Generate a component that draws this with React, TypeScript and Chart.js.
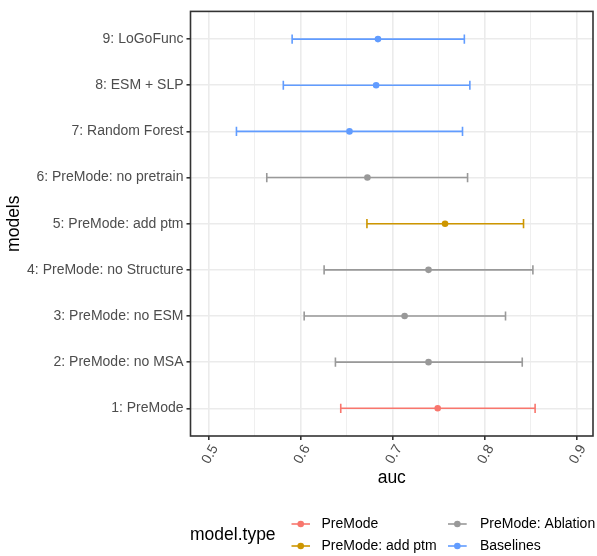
import React, { useEffect, useRef } from "react";
import { Chart, registerables } from "chart.js";

Chart.register(...registerables);

// ---- data ----
const models = [
  "1: PreMode",
  "2: PreMode: no MSA",
  "3: PreMode: no ESM",
  "4: PreMode: no Structure",
  "5: PreMode: add ptm",
  "6: PreMode: no pretrain",
  "7: Random Forest",
  "8: ESM + SLP",
  "9: LoGoFunc",
];
const modelTypeOf = [
  "PreMode",
  "PreMode: Ablation",
  "PreMode: Ablation",
  "PreMode: Ablation",
  "PreMode: add ptm",
  "PreMode: Ablation",
  "Baselines",
  "Baselines",
  "Baselines",
];
const aucMean = [0.749, 0.739, 0.713, 0.739, 0.757, 0.6725, 0.653, 0.682, 0.684];
const aucLower = [0.6435, 0.6377, 0.6037, 0.6254, 0.672, 0.563, 0.53, 0.581, 0.5906];
const aucUpper = [0.855, 0.841, 0.8228, 0.8526, 0.8424, 0.7815, 0.776, 0.784, 0.778];

const typeLevels = ["PreMode", "PreMode: add ptm", "PreMode: Ablation", "Baselines"];
const typeColors = ["#F8766D", "#CD9600", "#999999", "#619CFF"];

const xMajorTicks = [0.5, 0.6, 0.7, 0.8, 0.9];
const xMinorTicks = [0.55, 0.65, 0.75, 0.85];
const xLimits = [0.48, 0.918];

const FONT = "'Liberation Sans', Arial, Helvetica, sans-serif";

export default function App() {
  const ref = useRef<HTMLCanvasElement | null>(null);

  useEffect(() => {
    const canvas = ref.current;
    if (!canvas) return;

    const datasets = typeLevels.map((t, ti) => {
      const pts: any[] = [];
      models.forEach((m, i) => {
        if (modelTypeOf[i] === t) pts.push({ x: aucMean[i], y: i + 1, lo: aucLower[i], hi: aucUpper[i] });
      });
      return {
        label: t,
        data: pts,
        backgroundColor: typeColors[ti],
        borderColor: typeColors[ti],
        pointRadius: 3.3,
        pointBorderWidth: 0,
        showLine: false,
      };
    });

    const majorSet = new Set(xMajorTicks.map((v) => v.toFixed(2)));
    const isMajor = (v: number) => majorSet.has(v.toFixed(2));

    const customPlugin = {
      id: "ggExtras",
      beforeDatasetsDraw(chart: any) {
        const ctx = chart.ctx;
        const xs = chart.scales.x;
        const ys = chart.scales.y;
        ctx.save();
        ctx.lineWidth = 1.6;
        chart.data.datasets.forEach((ds: any) => {
          ctx.strokeStyle = ds.borderColor;
          ds.data.forEach((p: any) => {
            const y = ys.getPixelForValue(p.y);
            const yt = ys.getPixelForValue(p.y + 0.1);
            const yb = ys.getPixelForValue(p.y - 0.1);
            const x0 = xs.getPixelForValue(p.lo);
            const x1 = xs.getPixelForValue(p.hi);
            ctx.beginPath();
            ctx.moveTo(x0, y);
            ctx.lineTo(x1, y);
            ctx.moveTo(x0, yt);
            ctx.lineTo(x0, yb);
            ctx.moveTo(x1, yt);
            ctx.lineTo(x1, yb);
            ctx.stroke();
          });
        });
        ctx.restore();
      },
      afterDraw(chart: any) {
        const ctx = chart.ctx;
        const a = chart.chartArea;
        const xs = chart.scales.x;
        ctx.save();
        // panel border
        ctx.strokeStyle = "#333333";
        ctx.lineWidth = 1.6;
        ctx.strokeRect(a.left, a.top, a.right - a.left, a.bottom - a.top);

        // x tick labels (rotated)
        ctx.fillStyle = "#4D4D4D";
        ctx.font = `14px ${FONT}`;
        ctx.textAlign = "center";
        ctx.textBaseline = "middle";
        xMajorTicks.forEach((v) => {
          const px = xs.getPixelForValue(v);
          ctx.save();
          ctx.translate(px + 1.4, a.bottom + 18.5);
          ctx.rotate(-Math.PI / 3);
          ctx.fillText(v.toFixed(1), 0, 0);
          ctx.restore();
        });

        // axis titles
        ctx.fillStyle = "#000000";
        ctx.font = `17.5px ${FONT}`;
        ctx.fillText("auc", (a.left + a.right) / 2, 478);
        ctx.save();
        ctx.translate(14, (a.top + a.bottom) / 2);
        ctx.rotate(-Math.PI / 2);
        ctx.fillText("models", 0, 0);
        ctx.restore();

        // legend
        ctx.textAlign = "left";
        ctx.fillText("model.type", 190, 535);
        const cols = [
          { keyX0: 291.5, keyX1: 310, labelX: 321.5 },
          { keyX0: 448, keyX1: 466.7, labelX: 480 },
        ];
        const rows = [524, 546];
        ctx.font = `14px ${FONT}`;
        typeLevels.forEach((t, i) => {
          const c = cols[Math.floor(i / 2)];
          const y = rows[i % 2];
          ctx.strokeStyle = typeColors[i];
          ctx.fillStyle = typeColors[i];
          ctx.lineWidth = 1.6;
          ctx.beginPath();
          ctx.moveTo(c.keyX0, y);
          ctx.lineTo(c.keyX1, y);
          ctx.stroke();
          ctx.beginPath();
          ctx.arc((c.keyX0 + c.keyX1) / 2, y, 3.3, 0, Math.PI * 2);
          ctx.fill();
          ctx.fillStyle = "#000000";
          ctx.fillText(t, c.labelX, y);
        });
        ctx.restore();
      },
    };

    const chart = new Chart(canvas, {
      type: "scatter",
      data: { datasets } as any,
      options: {
        animation: false,
        responsive: false,
        devicePixelRatio: 1,
        layout: { padding: { top: 6, right: 3.5, left: 0, bottom: 0 } },
        plugins: { legend: { display: false }, tooltip: { enabled: false } },
        scales: {
          x: {
            type: "linear",
            min: xLimits[0],
            max: xLimits[1],
            afterBuildTicks: (scale: any) => {
              scale.ticks = [...xMajorTicks, ...xMinorTicks]
                .sort((p, q) => p - q)
                .map((v) => ({ value: v }));
            },
            afterFit: (scale: any) => {
              scale.height = 120;
            },
            ticks: { display: false, autoSkip: false },
            border: { display: false },
            grid: {
              color: "#EBEBEB",
              lineWidth: (c: any) => (c.tick && isMajor(c.tick.value) ? 1.6 : 0.8),
              tickColor: (c: any) => (c.tick && isMajor(c.tick.value) ? "#333333" : "rgba(0,0,0,0)"),
              tickWidth: 1.6,
              tickLength: 4,
              drawTicks: true,
            },
          },
          y: {
            type: "linear",
            min: 0.4,
            max: models.length + 0.6,
            afterBuildTicks: (scale: any) => {
              scale.ticks = models.map((_, i) => ({ value: i + 1 }));
            },
            afterFit: (scale: any) => {
              scale.width = 190.5;
            },
            ticks: {
              autoSkip: false,
              padding: 3,
              color: "#4D4D4D",
              font: { family: FONT, size: 14 },
              callback: (v: any) => models[Math.round(Number(v)) - 1] ?? "",
            },
            border: { display: false },
            grid: {
              color: "#EBEBEB",
              lineWidth: 1.6,
              tickColor: "#333333",
              tickWidth: 1.6,
              tickLength: 4,
            },
          },
        },
      } as any,
      plugins: [customPlugin],
    });

    return () => chart.destroy();
  }, []);

  return (
    <div style={{ position: "absolute", left: 0, top: 0, width: 597, height: 556, background: "#ffffff" }}>
      <canvas ref={ref} width={597} height={556} style={{ display: "block", width: 597, height: 556 }} />
    </div>
  );
}
